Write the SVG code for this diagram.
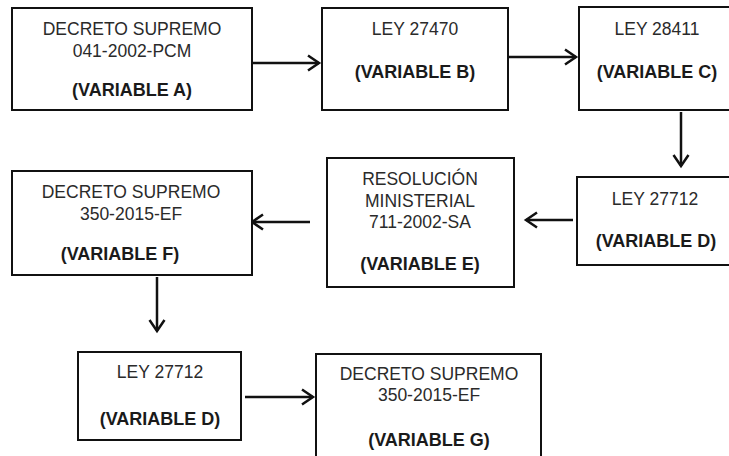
<svg xmlns="http://www.w3.org/2000/svg" width="729" height="456" viewBox="0 0 729 456">
<style>
.box{fill:#fff;stroke:#111;stroke-width:2}
text{font-family:"Liberation Sans",Arial,sans-serif;font-size:17.5px;fill:#2a2a2a;text-anchor:middle}
.b{font-weight:bold;font-size:18px;fill:#1a1a1a}
.c{fill:none;stroke:#111;stroke-width:2.5}
</style>
<defs>
<marker id="ah" markerUnits="userSpaceOnUse" markerWidth="20" markerHeight="20" viewBox="-14 -10 16 20" refX="0" refY="0" orient="auto">
<path d="M-11,-7.5 L0,0 L-11,7.5" fill="none" stroke="#111" stroke-width="2.5"/>
</marker>
</defs>
<rect width="729" height="456" fill="#fff"/>
<g id="connectors">
<line class="c" x1="253" y1="63" x2="319" y2="63" marker-end="url(#ah)"/>
<line class="c" x1="509" y1="57" x2="576" y2="57" marker-end="url(#ah)"/>
<line class="c" x1="681" y1="112" x2="681" y2="166" marker-end="url(#ah)"/>
<line class="c" x1="573" y1="220" x2="526" y2="220" marker-end="url(#ah)"/>
<line class="c" x1="310" y1="222" x2="252" y2="222" marker-end="url(#ah)"/>
<line class="c" x1="157" y1="277" x2="157" y2="331" marker-end="url(#ah)"/>
<line class="c" x1="245" y1="397" x2="313" y2="397" marker-end="url(#ah)"/>
</g>
<g id="nodeA">
<rect class="box" x="12" y="8" width="240" height="102"/>
<text x="132" y="35">DECRETO SUPREMO</text>
<text x="132" y="57">041-2002-PCM</text>
<text class="b" x="132" y="96">(VARIABLE A)</text>
</g>
<g id="nodeB">
<rect class="box" x="322" y="8" width="186" height="102"/>
<text x="415" y="35">LEY 27470</text>
<text class="b" x="415" y="78">(VARIABLE B)</text>
</g>
<g id="nodeC">
<rect class="box" x="579" y="7" width="156" height="103"/>
<text x="657" y="35">LEY 28411</text>
<text class="b" x="657" y="78">(VARIABLE C)</text>
</g>
<g id="nodeD">
<rect class="box" x="577" y="177" width="158" height="88"/>
<text x="655" y="205">LEY 27712</text>
<text class="b" x="656" y="247">(VARIABLE D)</text>
</g>
<g id="nodeE">
<rect class="box" x="327" y="158" width="187" height="129"/>
<text x="420" y="185">RESOLUCIÓN</text>
<text x="420" y="207">MINISTERIAL</text>
<text x="420" y="228">711-2002-SA</text>
<text class="b" x="420" y="270">(VARIABLE E)</text>
</g>
<g id="nodeF">
<rect class="box" x="12" y="171" width="240" height="104"/>
<text x="131" y="198">DECRETO SUPREMO</text>
<text x="131" y="220">350-2015-EF</text>
<text class="b" x="120" y="260">(VARIABLE F)</text>
</g>
<g id="nodeD2">
<rect class="box" x="78" y="352" width="163" height="88"/>
<text x="160" y="378">LEY 27712</text>
<text class="b" x="160" y="425">(VARIABLE D)</text>
</g>
<g id="nodeG">
<rect class="box" x="316" y="354" width="225" height="110"/>
<text x="429" y="380">DECRETO SUPREMO</text>
<text x="429" y="401">350-2015-EF</text>
<text class="b" x="429" y="446">(VARIABLE G)</text>
</g>
</svg>
